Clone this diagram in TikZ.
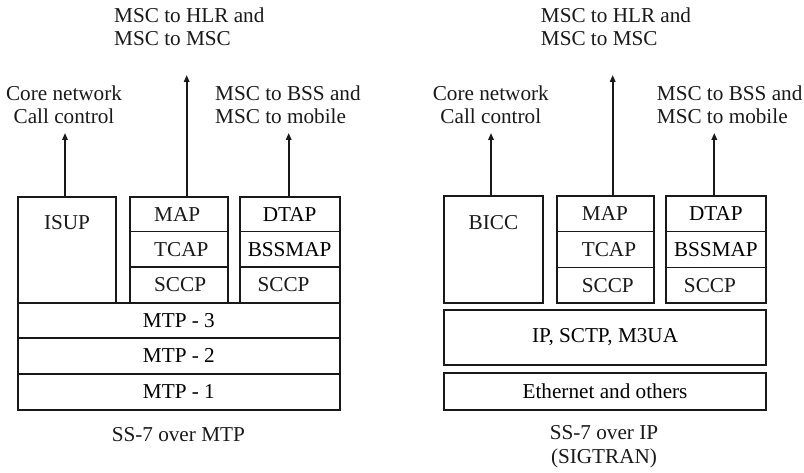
\documentclass[tikz,border=0pt]{standalone}
\usepackage{fontspec}
\setmainfont{Liberation Serif}
\usetikzlibrary{arrows.meta,calc}
\begin{document}
\begin{tikzpicture}[x=1pt,y=-1pt,
  font=\fontsize{21.2}{23.4}\selectfont,
  box/.style={draw=black!90,line width=1.8pt,inner sep=0pt,anchor=north west},
  lbl/.style={inner sep=0pt,text=black!90},
  arr/.style={line width=1.7pt,draw=black!90,-{Triangle[length=7pt,width=5.5pt]}}]
\useasboundingbox (0,0) rectangle (804,473);
% ---------- left: SS-7 over MTP ----------
\node[box,minimum width=97.7pt,minimum height=106pt] (isup) at (17.3,196) {};
\node[lbl,anchor=base] at ($(isup.north)+(0,33.3)$) {ISUP};
\node[box,minimum width=97.4pt,minimum height=34.7pt] (mapL) at (129.3,196) {};
\node[box,minimum width=97.4pt,minimum height=35.3pt] (tcapL) at (129.3,230.7) {};
\node[box,minimum width=97.4pt,minimum height=36pt] (sccpL) at (129.3,266) {};
\node[lbl,anchor=west] at ($(mapL.west)+(24.7,0)$) {MAP};
\node[lbl,anchor=west] at ($(tcapL.west)+(24.7,0)$) {TCAP};
\node[lbl,anchor=west] at ($(sccpL.west)+(24.7,0)$) {SCCP};
\node[box,minimum width=100pt,minimum height=34.7pt] (dtapL) at (238.7,196) {DTAP};
\node[box,minimum width=100pt,minimum height=35.3pt] (bssL) at (238.7,230.7) {BSSMAP};
\node[box,minimum width=100pt,minimum height=36pt] (sccpL2) at (238.7,266) {};
\node[lbl] at ($(sccpL2.center)+(-6,0)$) {SCCP};
\node[box,minimum width=321.4pt,minimum height=35.3pt] (mtp3) at (17.3,302) {MTP - 3};
\node[box,minimum width=321.4pt,minimum height=35.4pt] (mtp2) at (17.3,337.3) {MTP - 2};
\node[box,minimum width=321.4pt,minimum height=36.6pt] (mtp1) at (17.3,372.7) {MTP - 1};
\node[lbl,anchor=base] (capL) at (178.3,441) {SS-7 over MTP};
% labels (base anchor = baseline of last line)
\node[lbl,anchor=base,align=center] (ccL) at (64,124) {Core network\\Call control};
\node[lbl,anchor=base west,align=left] (hlrL) at (114,46) {MSC to HLR and\\MSC to MSC};
\node[lbl,anchor=base west,align=left] (bssTL) at (215,124) {MSC to BSS and\\MSC to mobile};
% arrows
\coordinate (a1L) at (65,133);
\coordinate (a2L) at (186.7,75);
\coordinate (a3L) at (288.7,133);
\draw[arr] (isup.north -| a1L) -- (a1L);
\draw[arr] (mapL.north -| a2L) -- (a2L);
\draw[arr] (dtapL.north -| a3L) -- (a3L);
% ---------- right: SS-7 over IP ----------
\node[box,minimum width=98.4pt,minimum height=107pt] (bicc) at (443.3,195) {};
\node[lbl,anchor=base] at ($(bicc.north)+(0,34.3)$) {BICC};
\node[box,minimum width=97.6pt,minimum height=35.7pt] (mapR) at (555.7,195) {};
\node[box,minimum width=97.6pt,minimum height=36pt] (tcapR) at (555.7,230.7) {};
\node[box,minimum width=97.6pt,minimum height=35.3pt] (sccpR) at (555.7,266.7) {};
\node[lbl,anchor=west] at ($(mapR.west)+(26,0)$) {MAP};
\node[lbl,anchor=west] at ($(tcapR.west)+(26,0)$) {TCAP};
\node[lbl,anchor=west] at ($(sccpR.west)+(26,0)$) {SCCP};
\node[box,minimum width=100pt,minimum height=35.7pt] (dtapR) at (665,195) {DTAP};
\node[box,minimum width=100pt,minimum height=36pt] (bssR) at (665,230.7) {BSSMAP};
\node[box,minimum width=100pt,minimum height=35.3pt] (sccpR2) at (665,266.7) {};
\node[lbl] at ($(sccpR2.center)+(-6,0)$) {SCCP};
\node[box,minimum width=321.7pt,minimum height=54.7pt] (ip) at (443.3,309.3) {IP, SCTP, M3UA};
\node[box,minimum width=321.7pt,minimum height=37pt] (eth) at (443.3,372.3) {Ethernet and others};
\node[lbl,anchor=base,align=center] (capR) at (604,463) {SS-7 over IP\\(SIGTRAN)};
% labels
\node[lbl,anchor=base,align=center] (ccR) at (490.8,124) {Core network\\Call control};
\node[lbl,anchor=base west,align=left] (hlrR) at (540.7,46) {MSC to HLR and\\MSC to MSC};
\node[lbl,anchor=base west,align=left] (bssTR) at (656.7,124) {MSC to BSS and\\MSC to mobile};
% arrows
\coordinate (a1R) at (491,133);
\coordinate (a2R) at (612.7,75);
\coordinate (a3R) at (714.3,133);
\draw[arr] (bicc.north -| a1R) -- (a1R);
\draw[arr] (mapR.north -| a2R) -- (a2R);
\draw[arr] (dtapR.north -| a3R) -- (a3R);
\end{tikzpicture}
\end{document}
